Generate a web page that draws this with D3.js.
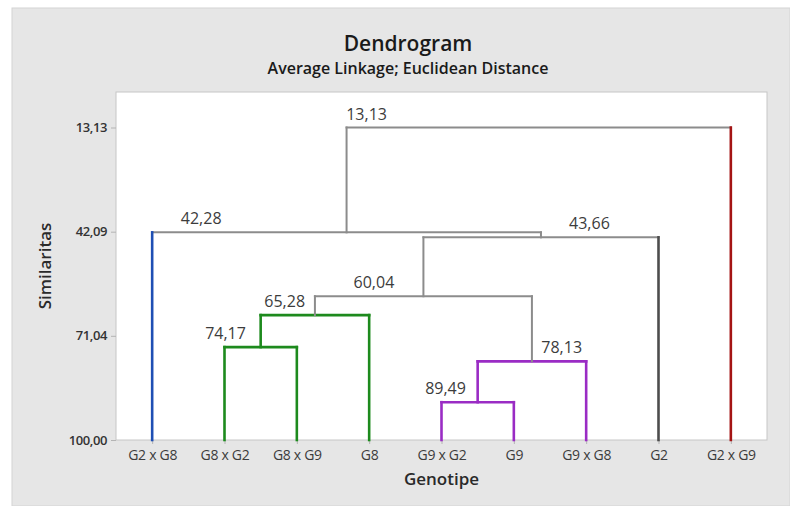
<!DOCTYPE html>
<html lang="en">
<head>
  <meta charset="UTF-8" />
  <title>Dendrogram - Average Linkage; Euclidean Distance</title>
  <script src="https://cdn.jsdelivr.net/npm/d3@7"></script>
  <style>
    html, body { margin: 0; padding: 0; background: #fff; }
    svg { display: block; font-family: "Open Sans", "Noto Sans", sans-serif; }
  </style>
</head>
<body>
  <script>
    // ------ Data ------
    const leaves = ["G2 x G8", "G8 x G2", "G8 x G9", "G8", "G9 x G2", "G9", "G9 x G8", "G2", "G2 x G9"];
    const leafColors = ["#1f4fb4", "#1d8a1d", "#1d8a1d", "#1d8a1d", "#9a2cc4", "#9a2cc4", "#9a2cc4", "#4d4d4d", "#a41414"];

    // merges: children are leaf names or "m<i>" (earlier merge)
    const mergeA   = ["G9 x G2", "m0",      "G8 x G2", "m2", "m3", "m4", "G2 x G8", "m6"];
    const mergeB   = ["G9",      "G9 x G8", "G8 x G9", "G8", "m1", "G2", "m5",      "G2 x G9"];
    const mergeSim = [89.49, 78.13, 74.17, 65.28, 60.04, 43.66, 42.28, 13.13];
    const mergeColors = ["#9a2cc4", "#9a2cc4", "#1d8a1d", "#1d8a1d", "#8c8c8c", "#8c8c8c", "#8c8c8c", "#8c8c8c"];

    const yTicks = [13.13, 42.09, 71.04, 100.00];

    // label nudges (px from left leg of each merge), layout only
    const labelDx = [4, 84, 1, 24, 59, 166, 49, 20];

    // ------ Layout ------
    const W = 790, H = 506;
    const plot = { left: 116, right: 767, top: 92, bottom: 440 };
    const fmt = d3.formatLocale({ decimal: ",", thousands: ".", grouping: [3], currency: ["", ""] }).format(".2f");

    const svg = d3.select("body").append("svg").attr("width", W).attr("height", H);

    svg.append("rect").attr("x", 12).attr("y", 8).attr("width", W - 12).attr("height", H - 8)
      .attr("fill", "#e6e6e6").attr("stroke", "#d4d4d4");

    svg.append("rect")
      .attr("x", plot.left).attr("y", plot.top)
      .attr("width", plot.right - plot.left).attr("height", plot.bottom - plot.top)
      .attr("fill", "#fff").attr("stroke", "#c6c6c6");

    const x = d3.scalePoint().domain(leaves).range([plot.left, plot.right]).padding(0.5);
    const y = d3.scaleLinear().domain([100, 3.26]).range([plot.bottom, plot.top]);

    // ------ Axes ------
    const yAxis = svg.append("g").attr("transform", `translate(${plot.left},0)`)
      .call(d3.axisLeft(y).tickValues(yTicks).tickSize(5).tickPadding(4).tickFormat(fmt));
    yAxis.select(".domain").remove();
    yAxis.selectAll(".tick line").attr("stroke", "#b4b4b4");
    yAxis.selectAll(".tick text").attr("font-family", "Open Sans").attr("font-size", 13)
      .attr("font-weight", 600).attr("fill", "#333").attr("letter-spacing", -0.4);

    const xAxis = svg.append("g").attr("transform", `translate(0,${plot.bottom})`)
      .call(d3.axisBottom(x).tickSize(4).tickPadding(6));
    xAxis.select(".domain").remove();
    xAxis.selectAll(".tick line").attr("stroke", "#b4b4b4");
    xAxis.selectAll(".tick text").attr("font-family", "Open Sans").attr("font-size", 14)
      .attr("fill", "#3c3c3c").attr("letter-spacing", -0.3);

    // ------ Dendrogram links ------
    const nodes = {};
    leaves.forEach((name, i) => { nodes[name] = { x: x(name), sim: 100, leaf: true, color: leafColors[i] }; });
    mergeSim.forEach((s, i) => {
      const a = nodes[mergeA[i]], b = nodes[mergeB[i]];
      nodes["m" + i] = { x: (a.x + b.x) / 2, sim: s, leaf: false, color: mergeColors[i], a, b, i };
    });

    const links = svg.append("g").attr("fill", "none").attr("stroke-linecap", "square");
    const width = c => (c === "#8c8c8c" ? 2 : 2.6);

    mergeSim.forEach((s, i) => {
      const m = nodes["m" + i];
      const ym = y(s);
      links.append("line")
        .attr("x1", m.a.x).attr("x2", m.b.x).attr("y1", ym).attr("y2", ym)
        .attr("stroke", m.color).attr("stroke-width", width(m.color));
      [m.a, m.b].forEach(c => {
        const col = c.leaf ? c.color : m.color;
        links.append("line")
          .attr("x1", c.x).attr("x2", c.x).attr("y1", y(c.sim)).attr("y2", ym)
          .attr("stroke", col).attr("stroke-width", width(col));
      });
      svg.append("text")
        .attr("x", m.a.x + labelDx[i]).attr("y", ym - 8)
        .attr("text-anchor", "middle").attr("font-size", 16).attr("fill", "#3c3c3c")
        .text(fmt(s));
    });

    // ------ Titles ------
    const cx = (plot.left + plot.right) / 2;
    svg.append("text").attr("x", 408).attr("y", 51).attr("text-anchor", "middle")
      .attr("font-size", 21).attr("font-weight", 600).attr("fill", "#1a1a1a").text("Dendrogram");
    svg.append("text").attr("x", 408).attr("y", 74).attr("text-anchor", "middle")
      .attr("font-size", 16).attr("font-weight", 600).attr("fill", "#1a1a1a")
      .text("Average Linkage; Euclidean Distance");
    svg.append("text").attr("x", cx).attr("y", 485).attr("text-anchor", "middle")
      .attr("font-size", 17).attr("font-weight", 600).attr("fill", "#2a2a2a").text("Genotipe");
    svg.append("text").attr("transform", `translate(51,${(plot.top + plot.bottom) / 2}) rotate(-90)`)
      .attr("text-anchor", "middle").attr("font-size", 17).attr("font-weight", 600)
      .attr("fill", "#2a2a2a").text("Similaritas");
  </script>
</body>
</html>
